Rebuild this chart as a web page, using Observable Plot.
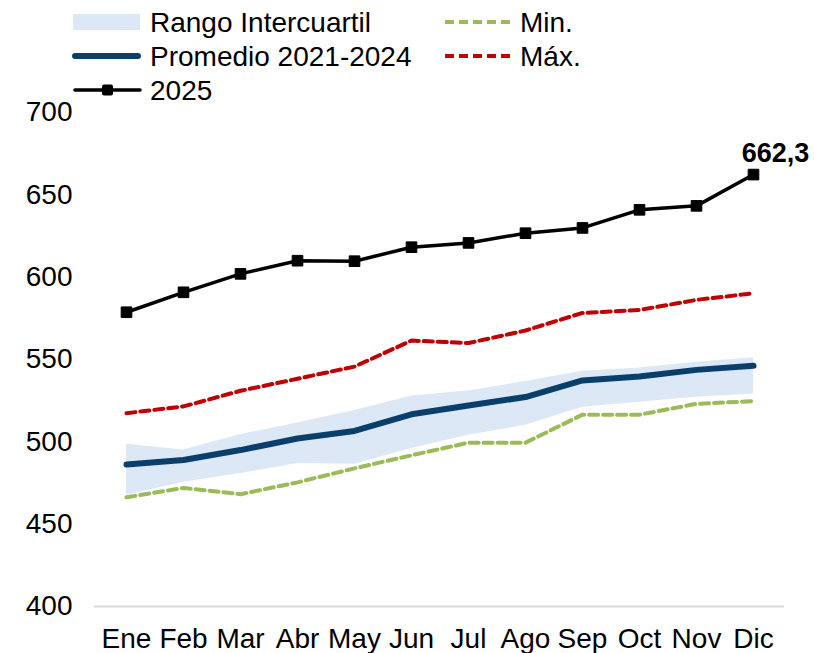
<!DOCTYPE html>
<html>
<head>
<meta charset="utf-8">
<script src="https://cdn.jsdelivr.net/npm/d3@7"></script>
<script src="https://cdn.jsdelivr.net/npm/@observablehq/plot@0.6"></script>
<style>
  html, body { margin: 0; padding: 0; background: #fff; }
  body { width: 814px; height: 653px; overflow: hidden; font-family: "Liberation Sans", Arial, sans-serif; }
  #wrap { position: relative; width: 814px; height: 653px; }
  #legend { position: absolute; left: 0; top: 0; width: 814px; height: 110px; pointer-events: none; }
  #chart { position: absolute; left: 0; top: 0; }
</style>
</head>
<body>
<div id="wrap">
  <div id="chart"></div>
  <div id="legend"></div>
</div>
<script>
const months = ["Ene","Feb","Mar","Abr","May","Jun","Jul","Ago","Sep","Oct","Nov","Dic"];
const iqrLow  = [467.5, 475.5, 480.7, 486.8, 486.4, 496, 504, 510, 521, 524, 527, 529];
const iqrHigh = [498.5, 495, 504.5, 511.4, 519, 527.8, 530.8, 536.7, 542.9, 544.9, 548.4, 551];
const promedio = [486.2, 489, 495, 502, 506.6, 516.7, 522.1, 527.2, 537.3, 539.7, 543.7, 546.2];
const minVals = [466.3, 472, 468.2, 475.4, 483.9, 491.8, 499.5, 499.5, 516.5, 516.5, 523.1, 524.7];
const maxVals = [517.4, 521.5, 531, 538.3, 545.7, 561.5, 560, 567.6, 578.3, 580.1, 586.2, 590.2];
const y2025 = [578.7, 590.8, 602, 610, 609.7, 618.2, 620.8, 626.7, 629.9, 640.9, 643.3, 662.3];
const yTicks = [400, 450, 500, 550, 600, 650, 700];
const lastLabel = "662,3";

const colors = {iqr: "#dce8f5", prom: "#0a3f6c", min: "#9bbb59", max: "#c00000", y25: "#000000"};

const rows = months.map((m, i) => ({
  month: m, lo: iqrLow[i], hi: iqrHigh[i], prom: promedio[i],
  min: minVals[i], max: maxVals[i], v: y2025[i]
}));

const font = '"Liberation Sans", Arial, sans-serif';

const chart = Plot.plot({
  width: 814,
  height: 653,
  marginTop: 112,
  marginBottom: 47,
  marginLeft: 94,
  marginRight: 30,
  style: {fontFamily: font, fontSize: "28px", color: "#000", background: "transparent"},
  x: {type: "point", domain: months, padding: 0.5, label: null, tickSize: 0, tickPadding: 22},
  y: {domain: [400, 700], ticks: yTicks, tickFormat: d => String(d), label: null, tickSize: 0, tickPadding: 22},
  marks: [
    Plot.areaY(rows, {x: "month", y1: "lo", y2: "hi", fill: colors.iqr}),
    Plot.ruleY([400], {stroke: "#d9d9d9", strokeWidth: 2}),
    Plot.lineY(rows, {x: "month", y: "min", stroke: colors.min, strokeWidth: 4, strokeDasharray: "9,5"}),
    Plot.lineY(rows, {x: "month", y: "max", stroke: colors.max, strokeWidth: 4, strokeDasharray: "9,5"}),
    Plot.lineY(rows, {x: "month", y: "prom", stroke: colors.prom, strokeWidth: 6, strokeLinecap: "round"}),
    Plot.lineY(rows, {x: "month", y: "v", stroke: colors.y25, strokeWidth: 3.5}),
    Plot.dot(rows, {x: "month", y: "v", symbol: "square", r: 6, fill: colors.y25, stroke: colors.y25, strokeWidth: 1, strokeLinejoin: "round"}),
    Plot.text(rows.slice(-1), {x: "month", y: "v", text: () => lastLabel, dy: -21, dx: 22, fontWeight: "bold", fontSize: 27, fill: "#000"})
  ]
});
document.getElementById("chart").appendChild(chart);

// Legend
const items = [
  {label: "Rango Intercuartil", kind: "area", color: colors.iqr, x: 73, sx: 140, tx: 150, y: 22},
  {label: "Promedio 2021-2024", kind: "line", color: colors.prom, w: 6, x: 73, sx: 140, tx: 150, y: 56},
  {label: "2025", kind: "marker", color: colors.y25, w: 3.5, x: 73, sx: 142, tx: 150, y: 90},
  {label: "Min.", kind: "dash", color: colors.min, w: 4, x: 445, sx: 513, tx: 520, y: 22},
  {label: "Máx.", kind: "dash", color: colors.max, w: 4, x: 445, sx: 513, tx: 520, y: 56}
];
const svg = d3.select("#legend").append("svg").attr("width", 814).attr("height", 110);
for (const it of items) {
  if (it.kind === "area") {
    svg.append("rect").attr("x", it.x).attr("y", it.y - 8).attr("width", it.sx - it.x).attr("height", 16).attr("fill", it.color);
  } else {
    const l = svg.append("line").attr("x1", it.x + 2).attr("x2", it.sx - 2).attr("y1", it.y).attr("y2", it.y)
      .attr("stroke", it.color).attr("stroke-width", it.w);
    if (it.kind === "line") l.attr("stroke-linecap", "round");
    if (it.kind === "dash") l.attr("stroke-dasharray", "9,5").attr("x1", it.x).attr("x2", it.sx);
    if (it.kind === "marker") {
      l.attr("stroke-linecap", "round");
      const cx = (it.x + it.sx) / 2;
      svg.append("rect").attr("x", cx - 5.5).attr("y", it.y - 5.5).attr("width", 11).attr("height", 11).attr("rx", 2).attr("fill", it.color);
    }
  }
  svg.append("text").attr("x", it.tx).attr("y", it.y).attr("dy", "0.35em")
    .attr("font-family", font).attr("font-size", 28).attr("fill", "#000").text(it.label);
}
</script>
</body>
</html>
